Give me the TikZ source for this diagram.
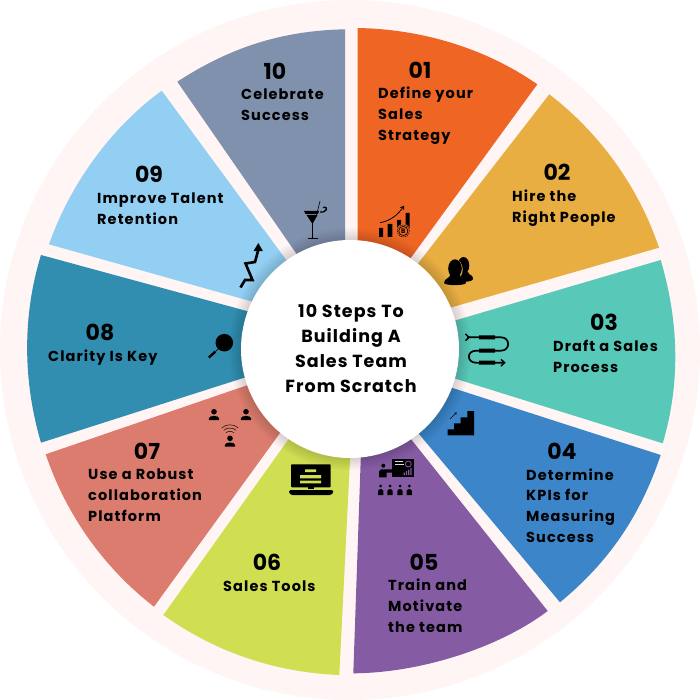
\documentclass[tikz,border=0pt]{standalone}
\usepackage{fontspec}
\setmainfont{Poppins}
\usetikzlibrary{calc,arrows.meta}

\definecolor{ringpale}{HTML}{FFF5F4}
\definecolor{c01}{HTML}{EF6624}
\definecolor{c02}{HTML}{E8AE42}
\definecolor{c03}{HTML}{58C8B8}
\definecolor{c04}{HTML}{3C85C8}
\definecolor{c05}{HTML}{855CA4}
\definecolor{c06}{HTML}{D0DF52}
\definecolor{c07}{HTML}{DB7C6E}
\definecolor{c08}{HTML}{328EB0}
\definecolor{c09}{HTML}{92CFF3}
\definecolor{c10}{HTML}{8091AE}

% One wedge: outer corners A and B (clockwise), inner corners C and D
\newcommand{\stepwedge}[5]{%
  \fill[#1] (#2) .. controls ($(#2)!0.197!90:(rim)$) and ($(#3)!0.197!-90:(rim)$) .. (#3)
     -- ($(#3)!1.08!(#4)$) -- ($(#2)!1.08!(#5)$) -- cycle;}

\tikzset{
  num/.style={font=\fontsize{22}{24}\selectfont\bfseries, inner sep=0pt, anchor=center},
  steptext/.style={font=\fontsize{14.5}{20.8}\selectfont\bfseries\addfontfeatures{LetterSpace=7.5}, inner sep=0pt, align=left, anchor=base west},
  hubtext/.style={font=\fontsize{17.5}{25}\selectfont\bfseries\addfontfeatures{LetterSpace=6}, inner sep=0pt, align=center},
  icon/.style={black, line cap=butt, line join=miter}
}

\begin{document}
\begin{tikzpicture}[x=1pt,y=-1pt]
\useasboundingbox (0,0) rectangle (700,700);
\fill[white] (0,0) rectangle (700,700);
\fill[ringpale] (350,350) circle (350pt);
\coordinate (rim) at (352,351);

% wedges
\stepwedge{c01}{357.5,28}{537.3,84.3}{411.7,256.7}{357.5,240}
\stepwedge{c02}{549.3,94.3}{659,247.7}{451.7,307.3}{419,262.3}
\stepwedge{c03}{660.7,260}{662.7,443.3}{457.3,379.3}{456.7,320}
\stepwedge{c04}{660.7,455}{560,602.3}{420.7,436}{451.7,387.7}
\stepwedge{c05}{547.7,611}{353.3,673.3}{360.7,460}{411.7,440}
\stepwedge{c06}{339.3,675}{163.3,615}{286.7,441.7}{350,460}
\stepwedge{c07}{154,606.7}{45.7,454.3}{245,386}{279.3,434}
\stepwedge{c08}{41,442.7}{41,255}{246.7,311}{243.3,378}
\stepwedge{c09}{49,244.3}{161.7,90.7}{285,258.3}{250,301}
\stepwedge{c10}{177.3,81.7}{345,29.3}{345,240}{295,251.7}

% soft shadow round the hub
\foreach \r in {121,119,...,109}{
  \fill[black,opacity=0.024] (350,349) circle (\r pt);
}
\node[circle,fill=white,minimum size=218pt,inner sep=0pt] (hub) at (350,349) {};
\node[hubtext] (hubt) at (351,348.5) {10 Steps To\\Building A\\Sales Team\\From Scratch};

% step numbers
\node[num] (n01) at (420,70) {01};
\node[num] (n02) at (557,172) {02};
\node[num] (n03) at (604,322) {03};
\node[num] (n04) at (562,451) {04};
\node[num] (n05) at (424,562) {05};
\node[num] (n06) at (267,562) {06};
\node[num] (n07) at (147,451) {07};
\node[num] (n08) at (100,332) {08};
\node[num] (n09) at (149,174) {09};
\node[num] (n10) at (275,71) {10};

% step captions, placed by the baseline of their last line
\node[steptext] (t01) at (378,140.5) {Define your\\Sales\\Strategy};
\node[steptext] (t02) at (512,222.5) {Hire the\\Right People};
\node[steptext] (t03) at (553,372.5) {Draft a Sales\\Process};
\node[steptext] (t04) at (526,542.5) {Determine\\KPIs for\\Measuring\\Success};
\node[steptext] (t05) at (388,632.5) {Train and\\Motivate\\the team};
\node[steptext] (t06) at (223,591.5) {Sales Tools};
\node[steptext] (t07) at (88,521.5) {Use a Robust\\collaboration\\Platform};
\node[steptext] (t08) at (48,361.5) {Clarity Is Key};
\node[steptext] (t09) at (97,224.5) {Improve Talent\\Retention};
\node[steptext] (t10) at (241,120.5) {Celebrate\\Success};

% icon 01: rising bars with coin
\fill[icon] (379,228) rectangle (383,237) (387.7,224) rectangle (392.3,237)
  (397,220) rectangle (401,232) (405.7,213) rectangle (409.7,228);
\draw[black,line width=0.8pt,-{Straight Barb[length=3pt,width=4pt]}] (380,222.7) .. controls (390,221) and (398,215) .. (404,205.7);
\fill[c01] (403.3,231) circle (7pt);
\draw[black,line width=0.5pt,dash pattern=on 1.5pt off 0.8pt] (403.3,231) circle (6pt);
\draw[black,line width=0.7pt] (403.3,231) circle (4.6pt);
\node[font=\fontsize{6.5}{6.5}\selectfont\bfseries,inner sep=0pt] (coin) at (403.3,231) {B};

% icon 02: two head-and-shoulder silhouettes
\fill[icon] (463.5,265.5) ellipse (5.8pt and 8.5pt);
\fill[icon] (458,272) -- (468,272) .. controls (469,276) and (473,274) .. (473,279)
   .. controls (472.5,281.5) and (466,282) .. (460,282) -- cycle;
\fill[c02] (455.3,269.5) ellipse (7.4pt and 10pt);
\fill[c02] (459,275) -- (467.5,284) -- (459,286) -- cycle;
\fill[icon] (455,268.5) ellipse (6.8pt and 9.2pt);
\fill[icon] (450.5,274) -- (459.5,274) .. controls (460,279) and (466,278) .. (466,283)
   .. controls (465,285.8) and (445,285.8) .. (444,283)
   .. controls (444,278) and (450,279) .. (450.5,274) -- cycle;

% icon 03: looping cable with plugs
\draw[black,line width=1.7pt] (467,337.3) -- (501,337.3) .. controls (510.5,337.3) and (510.5,350.7) .. (501,350.7)
  -- (476,350.7) .. controls (466.5,350.7) and (466.5,362.7) .. (476,362.7) -- (503.5,362.7);
\draw[black,line width=1.5pt] (465.5,334) -- (469,337.3) -- (465.5,340.6);
\draw[black,line width=1.5pt] (501,359.4) -- (504.5,362.7) -- (501,366);
\fill[icon] (479,335.3) rectangle (495,339.3) (479,348.7) rectangle (495,352.7) (479,360.7) rectangle (495,364.7);

% icon 04: staircase with small arrow
\fill[icon] (474,411) -- (474,435.3) -- (447.7,435.3) -- (447.7,429.3) -- (454,429.3) -- (454,423.3)
   -- (460.7,423.3) -- (460.7,417.3) -- (467.3,417.3) -- (467.3,411) -- cycle;
\draw[black,line width=0.4pt,-{Straight Barb[length=2pt,width=2.5pt]}] (450,419) -- (456.7,412.3);

% icon 05: presenter, screen and audience
\fill[icon] (392.3,459) rectangle (414.3,476.7);
\draw[white!75!c05,line width=0.7pt] (395,461.7) -- (403.3,461.7) (395,464) -- (404,464);
\draw[c05,line width=0.8pt] (408.3,464) circle (3pt);
\fill[c05] (403.5,475) rectangle (404.8,472.5) (405.8,475) rectangle (407.1,471) (408.1,475) rectangle (409.4,469.5) (410.4,475) rectangle (411.7,468);
\fill[icon] (383.3,465.7) circle (2pt);
\fill[icon] (379,477.3) -- (379,471.5) -- (381,469.3) -- (395,469.3) -- (395,472.5) -- (386.7,472.5) -- (386.7,477.3) -- cycle;
\foreach \px in {380.7,390,400,409.3}{
  \fill[icon] (\px,486) circle (1.5pt);
  \fill[icon] (\px-2.6,495) -- (\px-2.6,491) .. controls (\px-2.6,488.5) and (\px+2.6,488.5) .. (\px+2.6,491) -- (\px+2.6,495) -- cycle;
}

% icon 06: laptop with text lines
\fill[icon,rounded corners=0.8pt] (291,464.3) rectangle (330.7,487.3);
\fill[icon,rounded corners=1.5pt] (289,490) -- (333.3,490) -- (333.3,493) -- (331,495) -- (291,495) -- (289,493) -- cycle;
\fill[icon] (308,487) rectangle (314,489);
\fill[c06] (305,469.3) rectangle (316,472) (300,475) rectangle (321,478.3) (300,480.7) rectangle (321,483.3);

% icon 07: three people linked by wi-fi
\foreach \hx/\hy in {214/411.7,246/411.7,230/438.3}{
  \fill[icon] (\hx,\hy) circle (2.8pt);
  \fill[icon] (\hx-5.2,\hy+8.3) -- (\hx-5.2,\hy+6.8) .. controls (\hx-5,\hy+3.3) and (\hx+5,\hy+3.3) .. (\hx+5.2,\hy+6.8) -- (\hx+5.2,\hy+8.3) -- cycle;
}
\draw[black,line width=0.45pt]
  (221.7,428) .. controls (226,423.7) and (234,423.7) .. (238.3,428)
  (223.7,430.3) .. controls (227,427.3) and (233,427.3) .. (236.3,430.3)
  (226,432.7) .. controls (228,431) and (232,431) .. (234,432.7);

% icon 08: magnifier
\fill[icon] (224.3,342.7) circle (8.8pt);
\draw[black,line width=0.7pt] (218.3,348.7) -- (215.7,351.3);
\draw[black,line width=2.4pt] (215.5,351.5) -- (208.8,357.5);

% icon 09: jagged rising arrow
\draw[black,line width=2.6pt,line join=miter] (240.5,287.5) -- (245,280) -- (252.5,280) -- (245.5,263.5) -- (255,262) -- (258,251);
\fill[icon] (253.5,251) -- (258.3,243) -- (263,251.2) -- cycle;

% icon 10: cocktail glass with straw
\fill[icon] (304,211) -- (319,211) -- (318,214) -- (305.5,214) -- cycle;
\fill[icon] (306.5,215) -- (317.5,215) -- (312.5,224) -- cycle;
\draw[black,line width=0.8pt] (312.7,223) -- (312.7,239);
\draw[black,line width=1pt] (308,239) -- (317.7,239);
\draw[black,line width=0.6pt] (316,217) -- (320,201);
\draw[black,line width=1.3pt] (320,212) .. controls (327,213) and (329,206) .. (323,207.5);
\end{tikzpicture}
\end{document}
